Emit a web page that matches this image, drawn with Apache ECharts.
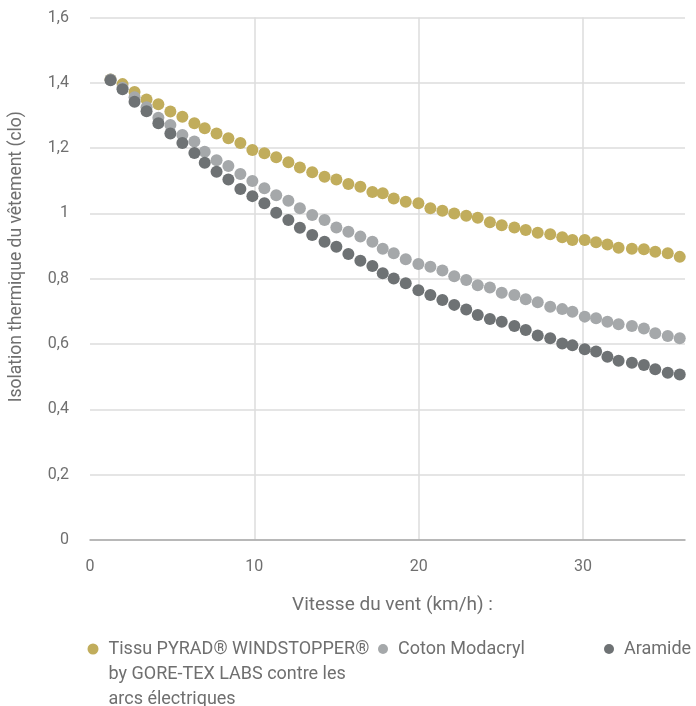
<!DOCTYPE html>
<html>
<head>
<meta charset="utf-8">
<script src="https://cdn.jsdelivr.net/npm/echarts@6/dist/echarts.min.js"></script>
<style>
html,body{margin:0;padding:0;background:#fff;}
#chart{width:696px;height:706px;}
</style>
</head>
<body>
<div id="chart"></div>
<script>
// Wind speed (km/h)
const windSpeeds = [1.25,1.98,2.71,3.44,4.16,4.89,5.62,6.35,6.98,7.70,8.42,9.15,9.88,10.61,11.33,12.07,12.77,13.52,14.27,14.99,15.72,16.45,17.18,17.81,18.48,19.21,19.98,20.71,21.44,22.16,22.89,23.59,24.33,25.05,25.82,26.51,27.24,28.00,28.73,29.35,30.10,30.79,31.48,32.16,32.97,33.70,34.39,35.15,35.88];
// Clothing thermal insulation (clo)
const pyradValues = [1.41,1.396,1.372,1.349,1.334,1.312,1.296,1.276,1.261,1.245,1.230,1.216,1.194,1.184,1.172,1.157,1.141,1.126,1.112,1.104,1.090,1.082,1.066,1.062,1.046,1.036,1.031,1.016,1.008,1.000,0.993,0.987,0.973,0.964,0.957,0.949,0.941,0.936,0.927,0.919,0.919,0.912,0.905,0.895,0.892,0.890,0.883,0.878,0.867];
const cotonValues = [1.41,1.385,1.356,1.325,1.293,1.271,1.240,1.220,1.189,1.163,1.145,1.121,1.099,1.077,1.056,1.039,1.016,0.995,0.980,0.957,0.944,0.929,0.913,0.892,0.878,0.860,0.845,0.837,0.825,0.808,0.796,0.780,0.773,0.757,0.750,0.737,0.728,0.714,0.707,0.699,0.684,0.679,0.668,0.661,0.655,0.648,0.633,0.625,0.618];
const aramideValues = [1.408,1.380,1.342,1.313,1.276,1.245,1.216,1.185,1.155,1.128,1.104,1.075,1.053,1.031,1.002,0.980,0.956,0.934,0.913,0.898,0.876,0.855,0.839,0.817,0.801,0.786,0.765,0.750,0.735,0.720,0.706,0.689,0.677,0.668,0.655,0.643,0.626,0.618,0.602,0.596,0.584,0.577,0.561,0.549,0.543,0.536,0.523,0.512,0.507];

const seriesNames = ['Tissu PYRAD® WINDSTOPPER®\nby GORE-TEX LABS contre les\narcs électriques', 'Coton Modacryl', 'Aramide'];
const seriesColors = ['#C1AD5C', '#A5A8AA', '#6E7274'];
const xAxisTitle = 'Vitesse du vent (km/h) :';
const yAxisTitle = 'Isolation thermique du vêtement (clo)';

const FONT = 'Roboto, "Noto Sans", sans-serif';
const TXT = '#6f6f6f';

function pts(vals) { return windSpeeds.map((x, i) => [x, vals[i]]); }

const chart = echarts.init(document.getElementById('chart'), null, {renderer: 'canvas'});
chart.setOption({
  animation: false,
  backgroundColor: '#fff',
  textStyle: {fontFamily: FONT},
  grid: {left: 89, right: 11, top: 17.5, bottom: 166, containLabel: false},
  xAxis: {
    type: 'value', min: 0, max: 36.2, interval: 10,
    name: xAxisTitle, nameLocation: 'middle', nameGap: 56,
    nameTextStyle: {fontSize: 19, color: TXT, fontFamily: FONT, padding: [0, 0, 0, 10]},
    axisLine: {show: true, lineStyle: {color: '#a9a9a9', width: 1.5}},
    axisTick: {show: false},
    axisLabel: {fontSize: 16, color: TXT, margin: 19, fontFamily: FONT,
      formatter: v => (Math.abs(v % 10) < 1e-9 ? String(v) : '')},
    splitLine: {show: true, lineStyle: {color: ['rgba(0,0,0,0)', '#dcdcdc', '#dcdcdc', '#dcdcdc', 'rgba(0,0,0,0)'], width: 1.5}}
  },
  yAxis: {
    type: 'value', min: 0, max: 1.6, interval: 0.2,
    name: yAxisTitle, nameLocation: 'middle', nameGap: 64,
    nameTextStyle: {fontSize: 17.5, color: TXT, fontFamily: FONT, padding: [0, 0, 0, 44]},
    axisLine: {show: false}, axisTick: {show: false},
    axisLabel: {fontSize: 16, color: TXT, margin: 21, fontFamily: FONT,
      formatter: v => (v === 0 ? '0' : String(+v.toFixed(1)).replace('.', ','))},
    splitLine: {show: true, lineStyle: {color: '#dcdcdc', width: 1.5}}
  },
  legend: [
    {data: [seriesNames[0]], left: 87.5, top: 586.5, padding: 0, icon: 'circle', itemWidth: 11, itemHeight: 11,
      formatter: name => '\n\n' + name,
      textStyle: {fontSize: 18, color: TXT, fontFamily: FONT, lineHeight: 25, padding: [0, 0, 0, 5]}},
    {data: [seriesNames[1]], left: 378, top: 636.5, padding: 0, icon: 'circle', itemWidth: 10, itemHeight: 10,
      textStyle: {fontSize: 18, color: TXT, fontFamily: FONT, lineHeight: 25, padding: [0, 0, 0, 5]}},
    {data: [seriesNames[2]], left: 604, top: 636.5, padding: 0, icon: 'circle', itemWidth: 10, itemHeight: 10,
      textStyle: {fontSize: 18, color: TXT, fontFamily: FONT, lineHeight: 25, padding: [0, 0, 0, 5]}}
  ],
  series: [
    {name: seriesNames[0], type: 'scatter', data: pts(pyradValues), symbolSize: 12, itemStyle: {color: seriesColors[0], opacity: 1}},
    {name: seriesNames[1], type: 'scatter', data: pts(cotonValues), symbolSize: 12, itemStyle: {color: seriesColors[1], opacity: 1}},
    {name: seriesNames[2], type: 'scatter', data: pts(aramideValues), symbolSize: 12, itemStyle: {color: seriesColors[2], opacity: 1}}
  ]
});
</script>
</body>
</html>
